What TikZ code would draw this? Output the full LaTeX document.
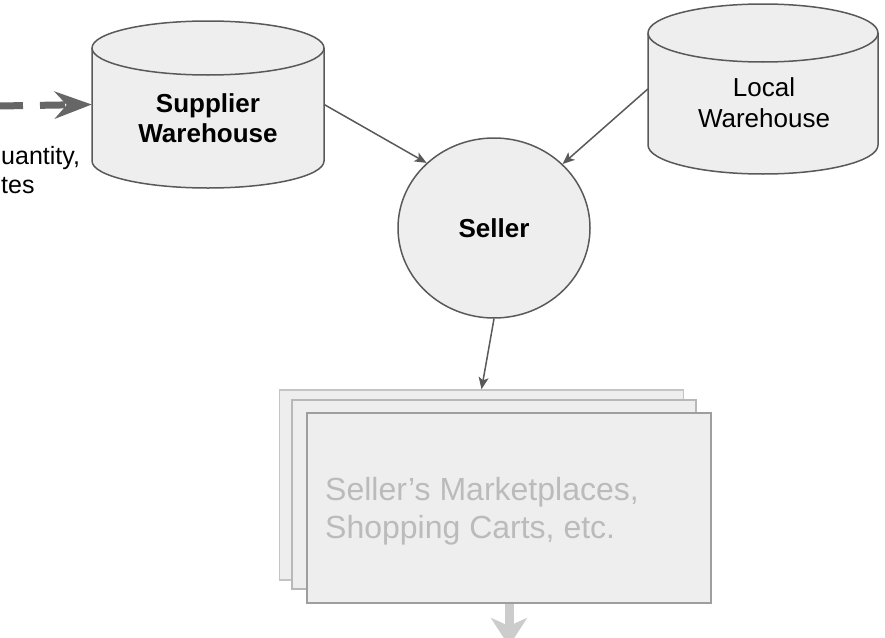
\documentclass[tikz,border=0pt]{standalone}
\usepackage{fontspec}
\setmainfont{Liberation Sans}
\usetikzlibrary{arrows.meta,shapes.geometric}
\definecolor{edge}{HTML}{595959}
\definecolor{shapefill}{HTML}{EEEEEE}
\definecolor{cardback}{HTML}{C4C4C4}
\definecolor{cardmid}{HTML}{B8B8B8}
\definecolor{cardfront}{HTML}{9E9E9E}
\definecolor{cardtext}{HTML}{BBBBBB}
\definecolor{bigarrowcol}{HTML}{CCCCCC}
\definecolor{dashcol}{HTML}{666666}
\tikzset{
  cyl/.style={fill=shapefill, draw=edge, line width=1.5pt},
  conn/.style={draw=edge, line width=1.5pt, -{Stealth[length=12pt,width=10pt,inset=3pt]}},
  dasharrow/.style={draw=dashcol, line width=7pt, dash pattern=on 25pt off 17pt,
     -{Stealth[length=37pt,width=27pt,inset=12pt]}},
  bigarr/.style={draw=bigarrowcol, line width=9pt, -{Stealth[length=28pt,width=36pt,inset=8pt]}},
  card/.style={fill=shapefill, line width=1.5pt, inner sep=0pt, minimum width=404pt, minimum height=190pt},
  boldtxt/.style={inner sep=0pt, align=center, font=\fontsize{26}{30}\selectfont\bfseries},
  regtxt/.style={inner sep=0pt, align=center, font=\fontsize{26}{31}\selectfont},
}
\begin{document}
\begin{tikzpicture}[x=1pt,y=-1pt]
\useasboundingbox (0,0) rectangle (885,637);
% Supplier warehouse cylinder
\path[cyl] (92,48) -- (92,161) arc[start angle=180,end angle=0,x radius=116,y radius=27]
  -- (324,48) arc[start angle=0,end angle=-180,x radius=116,y radius=27] -- cycle;
\draw[edge, line width=1.5pt] (92,48) arc[start angle=180,end angle=0,x radius=116,y radius=27];
\node[inner sep=0pt, minimum width=232pt, minimum height=113pt] (sup) at (208,104.5) {};
\node[boldtxt] (suptxt) at (208,118.5) {Supplier\\Warehouse};
% Local warehouse cylinder
\path[cyl] (648,33) -- (648,145) arc[start angle=180,end angle=0,x radius=115,y radius=29]
  -- (878,33) arc[start angle=0,end angle=-180,x radius=115,y radius=29] -- cycle;
\draw[edge, line width=1.5pt] (648,33) arc[start angle=180,end angle=0,x radius=115,y radius=29];
\node[inner sep=0pt, minimum width=230pt, minimum height=112pt] (loc) at (763,89) {};
\node[regtxt] (loctxt) at (764,103) {Local\\Warehouse};
% Seller
\node[ellipse, fill=shapefill, draw=edge, line width=1.5pt, inner sep=0pt,
  minimum width=192pt, minimum height=180pt, font=\fontsize{26}{30}\selectfont\bfseries] (seller) at (494,228) {Seller};
% Cards
\node[card, draw=cardback] (back) at (481.5,485) {};
\node[card, draw=cardmid, minimum height=189pt] (mid) at (494,494.5) {};
\node[card, draw=cardfront] (front) at (509,508) {};
\node[inner sep=0pt, anchor=west, align=left, text=cardtext, font=\fontsize{32}{38}\selectfont] (fronttxt) at (325,511) {Seller’s Marketplaces,\\Shopping Carts, etc.};
% connectors
\coordinate (din) at (-2,106);
\draw[dasharrow] (din) -- (sup.west);
\draw[conn] (sup.east) -- (seller.136);
\draw[conn] (loc.west) -- (seller.43);
\draw[conn] (seller.south) -- (back.north);
\coordinate (bout) at (509,646);
\draw[bigarr] (front.south) -- (bout);
% clipped left label
\node[inner sep=0pt, anchor=north west, align=left, font=\fontsize{25}{29}\selectfont] (lefttxt) at (1,146) {uantity,\\tes};
\end{tikzpicture}
\end{document}
